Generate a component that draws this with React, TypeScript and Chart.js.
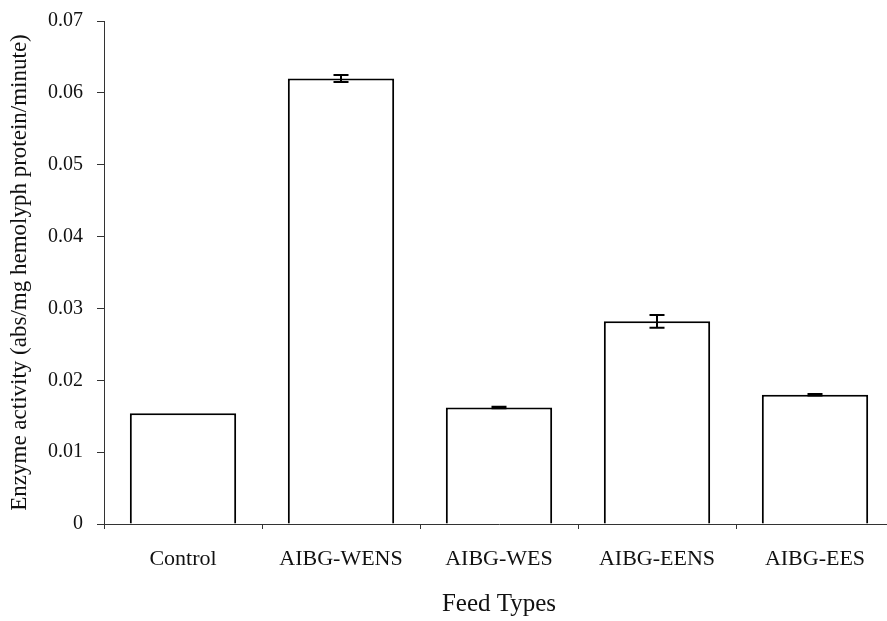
import React, { useEffect, useRef } from "react";
import { Chart, registerables } from "chart.js";

Chart.register(...registerables);

const categories = ["Control", "AIBG-WENS", "AIBG-WES", "AIBG-EENS", "AIBG-EES"];
const activity = [0.0154, 0.062, 0.0162, 0.0282, 0.018];
const errors = [0, 0.0005, 0.0001, 0.0009, 0.0001];
const yTicks = [0, 0.01, 0.02, 0.03, 0.04, 0.05, 0.06, 0.07];

const FONT = "'Liberation Serif', 'Times New Roman', serif";

const errorBarPlugin = {
  id: "errorBars",
  afterDatasetsDraw(chart: any) {
    const ctx = chart.ctx;
    const meta = chart.getDatasetMeta(0);
    const y = chart.scales.y;
    ctx.save();
    ctx.strokeStyle = "#000";
    ctx.lineWidth = 2;
    meta.data.forEach((bar: any, i: number) => {
      const e = errors[i];
      if (!e) return;
      const x = bar.x;
      const yHi = y.getPixelForValue(activity[i] + e);
      const yLo = y.getPixelForValue(activity[i] - e);
      const cap = 7.5;
      ctx.beginPath();
      ctx.moveTo(x, yHi);
      ctx.lineTo(x, yLo);
      ctx.moveTo(x - cap, yHi);
      ctx.lineTo(x + cap, yHi);
      ctx.moveTo(x - cap, yLo);
      ctx.lineTo(x + cap, yLo);
      ctx.stroke();
    });
    ctx.restore();
  },
};

export default function App() {
  const ref = useRef<HTMLCanvasElement>(null);
  useEffect(() => {
    if (!ref.current) return;
    const chart = new Chart(ref.current, {
      type: "bar",
      data: {
        labels: categories,
        datasets: [
          {
            data: activity,
            backgroundColor: "#fff",
            borderColor: "#000",
            borderWidth: 2,
            categoryPercentage: 1,
            barPercentage: 0.673,
          },
        ],
      },
      options: {
        responsive: false,
        animation: false,
        layout: { padding: { left: 0, right: 6, top: 21, bottom: 0 } },
        plugins: { legend: { display: false }, tooltip: { enabled: false } },
        scales: {
          x: {
            grid: {
              display: true,
              drawOnChartArea: false,
              drawTicks: true,
              tickLength: 5,
              offset: true,
              color: "#333",
            },
            border: { display: true, color: "#333", width: 1 },
            ticks: {
              color: "#111",
              padding: 17,
              font: { family: FONT, size: 22 },
              maxRotation: 0,
              autoSkip: false,
            },
            title: {
              display: true,
              text: "Feed Types",
              color: "#111",
              font: { family: FONT, size: 25 },
              padding: { top: 0, bottom: 2 },
            },
            afterFit(scale: any) {
              scale.height = 97;
              scale.paddingLeft = 0;
              scale.paddingRight = 0;
            },
          },
          y: {
            min: 0,
            max: 0.07,
            afterBuildTicks(scale: any) {
              scale.ticks = yTicks.map((v) => ({ value: v }));
            },
            grid: {
              display: true,
              drawOnChartArea: false,
              drawTicks: true,
              tickLength: 7,
              color: "#333",
            },
            border: { display: true, color: "#333", width: 1 },
            ticks: {
              color: "#111",
              padding: 14,
              font: { family: FONT, size: 20 },
              callback: (v: any) => (Number(v) === 0 ? "0" : Number(v).toFixed(2)),
            },
            title: {
              display: true,
              text: "Enzyme activity (abs/mg hemolyph protein/minute)",
              color: "#111",
              font: { family: FONT, size: 23 },
              padding: { top: 6, bottom: 0 },
            },
            afterFit(scale: any) {
              scale.width = 104;
              scale.paddingTop = 0;
              scale.paddingBottom = 0;
            },
          },
        },
      },
      plugins: [errorBarPlugin],
    });
    return () => chart.destroy();
  }, []);
  return (
    <div
      style={{
        position: "fixed",
        left: 0,
        top: 0,
        width: 887,
        height: 621,
        overflow: "hidden",
        background: "#fff",
      }}
    >
      <canvas ref={ref} width={900} height={621} style={{ display: "block" }} />
    </div>
  );
}
